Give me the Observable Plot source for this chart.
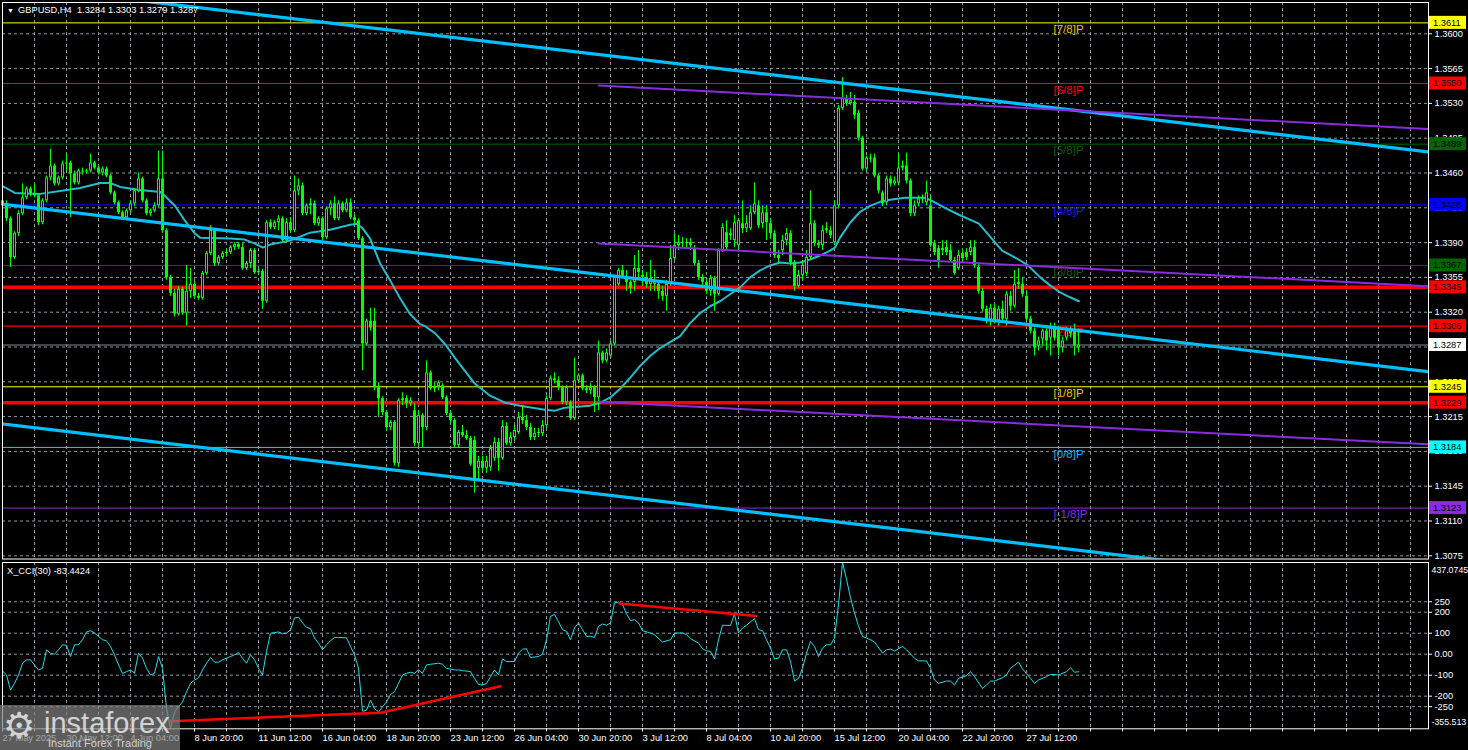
<!DOCTYPE html>
<html>
<head>
<meta charset="utf-8">
<script src="https://cdn.jsdelivr.net/npm/d3@7"></script>
<script src="https://cdn.jsdelivr.net/npm/@observablehq/plot@0.6"></script>
<style>
  html, body { margin:0; padding:0; background:#000; }
  body { width:1468px; height:750px; position:relative; overflow:hidden; font-family:'Liberation Sans', Arial, sans-serif; }
  #main { position:absolute; left:0; top:0; }
  #cci { position:absolute; left:0; top:560px; }
  .lbl { position:absolute; color:#fff; font-size:9.3px; white-space:pre; line-height:1; }
  #wm { position:absolute; left:0; top:705px; width:180px; height:45px; background:rgba(128,128,128,0.72); }
  #wm div { position:absolute; color:rgba(228,228,228,0.88); white-space:nowrap; line-height:1; }
</style>
</head>
<body>
<div id="main"></div>
<div id="cci"></div>
<div class="lbl" style="left:7px;top:7px;font-size:7px">▼</div>
<div class="lbl" style="left:18px;top:6px">GBPUSD,H4  1.3284 1.3303 1.3279 1.3287</div>
<div class="lbl" style="left:7px;top:567px">X_CCI(30) -83.4424</div>
<div id="wm">
  <div style="left:3px;top:3px;font-size:36px;font-family:'DejaVu Sans'">⚙</div>
  <div style="left:44px;top:4px;font-size:29px;">instaforex</div>
  <div style="left:48px;top:33px;font-size:11px;">Instant Forex Trading</div>
</div>
<script>
// ---------------- DATA ----------------
const priceTicks = [1.3600,1.3565,1.3530,1.3495,1.3460,1.3425,1.3390,1.3355,1.3320,1.3285,1.3250,1.3215,1.3180,1.3145,1.3110,1.3075];
const levelPrices = [1.3611,1.3550,1.3489,1.3428,1.3367,1.3345,1.3306,1.3287,1.3245,1.3229,1.3184,1.3123];
const murreyLabels = ["[7/8]P","[6/8]P","[5/8]P","[4/8]P","[3/8]P","[2/8]P","[1/8]P","[0/8]P","[-1/8]P"];
const murreyPrices = [1.3611,1.3550,1.3489,1.3428,1.3367,1.3306,1.3245,1.3184,1.3123];

const open = [
1.3432,1.3427,1.3414,1.3375,1.3399,1.3419,1.3435,1.3444,1.3439,1.3437,
1.3410,1.3432,1.3455,1.3467,1.3449,1.3455,1.3469,1.3470,1.3459,1.3450,
1.3462,1.3461,1.3462,1.3470,1.3465,1.3460,1.3464,1.3457,1.3440,1.3430,
1.3420,1.3415,1.3422,1.3429,1.3442,1.3454,1.3432,1.3419,1.3422,1.3427,
1.3454,1.3402,1.3355,1.3339,1.3318,1.3343,1.3319,1.3341,1.3348,1.3336,
1.3334,1.3359,1.3379,1.3402,1.3369,1.3375,1.3379,1.3380,1.3385,1.3388,
1.3385,1.3364,1.3369,1.3382,1.3360,1.3361,1.3331,1.3410,1.3405,1.3410,
1.3414,1.3392,1.3410,1.3402,1.3442,1.3447,1.3419,1.3427,1.3429,1.3409,
1.3414,1.3395,1.3424,1.3429,1.3414,1.3429,1.3422,1.3430,1.3415,1.3412,
1.3394,1.3288,1.3311,1.3311,1.3244,1.3233,1.3219,1.3204,1.3209,1.3168,
1.3231,1.3233,1.3228,1.3221,1.3188,1.3216,1.3204,1.3259,1.3243,1.3245,
1.3246,1.3234,1.3218,1.3211,1.3186,1.3199,1.3196,1.3193,1.3191,1.3163,
1.3170,1.3163,1.3164,1.3173,1.3189,1.3173,1.3205,1.3188,1.3194,1.3199,
1.3214,1.3211,1.3204,1.3194,1.3198,1.3198,1.3206,1.3233,1.3253,1.3251,
1.3244,1.3229,1.3229,1.3213,1.3251,1.3256,1.3243,1.3241,1.3244,1.3234,
1.3279,1.3271,1.3276,1.3288,1.3348,1.3362,1.3355,1.3350,1.3350,1.3364,
1.3357,1.3355,1.3348,1.3348,1.3348,1.3341,1.3336,1.3348,1.3374,1.3387,
1.3390,1.3389,1.3390,1.3384,1.3369,1.3355,1.3350,1.3341,1.3354,1.3338,
1.3382,1.3400,1.3397,1.3392,1.3387,1.3409,1.3404,1.3404,1.3420,1.3427,
1.3409,1.3420,1.3409,1.3399,1.3377,1.3382,1.3392,1.3399,1.3370,1.3346,
1.3357,1.3359,1.3375,1.3409,1.3389,1.3387,1.3402,1.3402,1.3390,1.3427,
1.3525,1.3535,1.3530,1.3531,1.3520,1.3495,1.3464,1.3475,1.3475,1.3457,
1.3440,1.3430,1.3454,1.3449,1.3450,1.3465,1.3467,1.3452,1.3419,1.3429,
1.3434,1.3430,1.3427,1.3389,1.3384,1.3382,1.3385,1.3382,1.3372,1.3364,
1.3379,1.3380,1.3380,1.3385,1.3365,1.3341,1.3323,1.3311,1.3324,1.3311,
1.3323,1.3313,1.3336,1.3326,1.3348,1.3348,1.3336,1.3313,1.3301,1.3286,
1.3293,1.3301,1.3294,1.3304,1.3303,1.3284,1.3294,1.3301,1.3301,1.3284];

const high = [
1.3434,1.3432,1.3416,1.3401,1.3422,1.3449,1.3446,1.3446,1.3449,1.3439,
1.3434,1.3457,1.3484,1.3469,1.3457,1.3472,1.3479,1.3472,1.3462,1.3464,
1.3465,1.3464,1.3479,1.3472,1.3467,1.3466,1.3466,1.3459,1.3442,1.3432,
1.3422,1.3424,1.3432,1.3444,1.3460,1.3456,1.3434,1.3424,1.3430,1.3482,
1.3482,1.3404,1.3357,1.3343,1.3346,1.3345,1.3367,1.3364,1.3351,1.3339,
1.3361,1.3381,1.3407,1.3404,1.3377,1.3381,1.3383,1.3387,1.3390,1.3390,
1.3389,1.3371,1.3384,1.3384,1.3364,1.3363,1.3412,1.3413,1.3412,1.3417,
1.3416,1.3414,1.3415,1.3457,1.3454,1.3450,1.3429,1.3434,1.3432,1.3416,
1.3416,1.3426,1.3432,1.3436,1.3432,1.3431,1.3434,1.3434,1.3418,1.3414,
1.3396,1.3313,1.3324,1.3324,1.3249,1.3235,1.3221,1.3211,1.3211,1.3233,
1.3239,1.3236,1.3234,1.3228,1.3221,1.3218,1.3271,1.3261,1.3249,1.3251,
1.3248,1.3236,1.3221,1.3213,1.3201,1.3206,1.3201,1.3195,1.3195,1.3175,
1.3175,1.3175,1.3186,1.3194,1.3193,1.3211,1.3209,1.3199,1.3206,1.3219,
1.3226,1.3216,1.3208,1.3203,1.3203,1.3211,1.3236,1.3256,1.3259,1.3255,
1.3246,1.3246,1.3231,1.3274,1.3258,1.3258,1.3246,1.3248,1.3246,1.3291,
1.3281,1.3283,1.3291,1.3357,1.3364,1.3367,1.3362,1.3352,1.3377,1.3382,
1.3362,1.3360,1.3372,1.3362,1.3352,1.3346,1.3352,1.3387,1.3399,1.3397,
1.3395,1.3394,1.3394,1.3387,1.3372,1.3358,1.3354,1.3357,1.3356,1.3384,
1.3409,1.3412,1.3404,1.3417,1.3414,1.3432,1.3417,1.3427,1.3450,1.3432,
1.3427,1.3427,1.3414,1.3402,1.3382,1.3397,1.3404,1.3402,1.3372,1.3362,
1.3372,1.3382,1.3442,1.3412,1.3392,1.3407,1.3410,1.3406,1.3432,1.3528,
1.3556,1.3538,1.3541,1.3538,1.3523,1.3497,1.3477,1.3479,1.3479,1.3459,
1.3442,1.3457,1.3457,1.3456,1.3479,1.3472,1.3480,1.3454,1.3432,1.3437,
1.3438,1.3452,1.3437,1.3392,1.3387,1.3392,1.3392,1.3388,1.3375,1.3382,
1.3382,1.3384,1.3392,1.3392,1.3368,1.3344,1.3326,1.3328,1.3328,1.3326,
1.3331,1.3341,1.3341,1.3362,1.3364,1.3354,1.3341,1.3316,1.3304,1.3295,
1.3303,1.3306,1.3309,1.3309,1.3306,1.3295,1.3305,1.3305,1.3308,1.3303];

const low = [
1.3422,1.3411,1.3365,1.3373,1.3396,1.3417,1.3433,1.3436,1.3435,1.3407,
1.3408,1.3430,1.3452,1.3447,1.3447,1.3453,1.3462,1.3415,1.3448,1.3448,
1.3458,1.3459,1.3460,1.3463,1.3458,1.3457,1.3455,1.3438,1.3428,1.3418,
1.3413,1.3412,1.3420,1.3426,1.3440,1.3430,1.3417,1.3416,1.3420,1.3425,
1.3400,1.3352,1.3336,1.3315,1.3316,1.3317,1.3306,1.3334,1.3334,1.3332,
1.3332,1.3357,1.3377,1.3366,1.3367,1.3373,1.3376,1.3378,1.3382,1.3383,
1.3362,1.3362,1.3364,1.3358,1.3358,1.3323,1.3329,1.3403,1.3403,1.3402,
1.3390,1.3390,1.3400,1.3400,1.3437,1.3417,1.3417,1.3418,1.3407,1.3406,
1.3392,1.3393,1.3417,1.3412,1.3412,1.3420,1.3420,1.3413,1.3409,1.3392,
1.3261,1.3286,1.3301,1.3241,1.3214,1.3216,1.3201,1.3201,1.3165,1.3164,
1.3226,1.3223,1.3225,1.3185,1.3185,1.3184,1.3201,1.3241,1.3239,1.3241,
1.3232,1.3216,1.3208,1.3184,1.3183,1.3194,1.3191,1.3165,1.3138,1.3150,
1.3160,1.3158,1.3160,1.3170,1.3160,1.3171,1.3186,1.3185,1.3191,1.3197,
1.3207,1.3201,1.3191,1.3191,1.3194,1.3195,1.3203,1.3231,1.3248,1.3241,
1.3227,1.3226,1.3211,1.3211,1.3249,1.3241,1.3238,1.3237,1.3219,1.3221,
1.3268,1.3269,1.3274,1.3286,1.3346,1.3354,1.3341,1.3338,1.3341,1.3354,
1.3346,1.3344,1.3341,1.3341,1.3333,1.3331,1.3321,1.3346,1.3372,1.3382,
1.3384,1.3385,1.3382,1.3367,1.3352,1.3346,1.3338,1.3336,1.3321,1.3336,
1.3380,1.3382,1.3392,1.3385,1.3382,1.3399,1.3400,1.3402,1.3418,1.3404,
1.3404,1.3392,1.3394,1.3374,1.3370,1.3377,1.3387,1.3367,1.3341,1.3344,
1.3352,1.3356,1.3372,1.3386,1.3384,1.3382,1.3399,1.3394,1.3387,1.3424,
1.3523,1.3527,1.3528,1.3514,1.3492,1.3462,1.3462,1.3470,1.3455,1.3439,
1.3426,1.3427,1.3446,1.3447,1.3447,1.3462,1.3449,1.3416,1.3416,1.3426,
1.3429,1.3427,1.3385,1.3377,1.3364,1.3377,1.3377,1.3370,1.3357,1.3362,
1.3370,1.3372,1.3377,1.3364,1.3338,1.3320,1.3308,1.3306,1.3308,1.3306,
1.3309,1.3306,1.3321,1.3324,1.3343,1.3335,1.3311,1.3298,1.3276,1.3281,
1.3286,1.3281,1.3276,1.3291,1.3276,1.3279,1.3291,1.3294,1.3276,1.3279];

const close = [
1.3427,1.3414,1.3375,1.3399,1.3419,1.3435,1.3444,1.3439,1.3437,1.3410,
1.3432,1.3455,1.3467,1.3449,1.3455,1.3469,1.3470,1.3459,1.3450,1.3462,
1.3461,1.3462,1.3470,1.3465,1.3460,1.3464,1.3457,1.3440,1.3430,1.3420,
1.3415,1.3422,1.3429,1.3442,1.3454,1.3432,1.3419,1.3422,1.3427,1.3454,
1.3402,1.3355,1.3339,1.3318,1.3343,1.3319,1.3341,1.3348,1.3336,1.3334,
1.3359,1.3379,1.3402,1.3369,1.3375,1.3379,1.3380,1.3385,1.3388,1.3385,
1.3364,1.3369,1.3382,1.3360,1.3361,1.3331,1.3410,1.3405,1.3410,1.3414,
1.3392,1.3410,1.3402,1.3442,1.3447,1.3419,1.3427,1.3429,1.3409,1.3414,
1.3395,1.3424,1.3429,1.3414,1.3429,1.3422,1.3430,1.3415,1.3412,1.3394,
1.3288,1.3311,1.3304,1.3244,1.3233,1.3219,1.3204,1.3209,1.3168,1.3231,
1.3233,1.3228,1.3231,1.3188,1.3216,1.3204,1.3259,1.3243,1.3245,1.3249,
1.3234,1.3218,1.3211,1.3186,1.3199,1.3196,1.3193,1.3167,1.3152,1.3170,
1.3163,1.3170,1.3183,1.3189,1.3173,1.3205,1.3188,1.3194,1.3201,1.3214,
1.3211,1.3204,1.3194,1.3198,1.3199,1.3206,1.3233,1.3253,1.3251,1.3244,
1.3229,1.3244,1.3213,1.3251,1.3256,1.3243,1.3241,1.3244,1.3234,1.3279,
1.3271,1.3279,1.3288,1.3355,1.3362,1.3356,1.3350,1.3344,1.3364,1.3360,
1.3355,1.3348,1.3354,1.3352,1.3341,1.3336,1.3348,1.3374,1.3387,1.3390,
1.3389,1.3390,1.3387,1.3369,1.3355,1.3350,1.3341,1.3354,1.3338,1.3382,
1.3405,1.3385,1.3399,1.3410,1.3412,1.3404,1.3409,1.3420,1.3429,1.3407,
1.3420,1.3410,1.3399,1.3377,1.3374,1.3392,1.3399,1.3370,1.3346,1.3357,
1.3367,1.3375,1.3409,1.3389,1.3387,1.3402,1.3404,1.3397,1.3427,1.3525,
1.3535,1.3530,1.3533,1.3518,1.3495,1.3464,1.3475,1.3474,1.3457,1.3442,
1.3429,1.3454,1.3449,1.3452,1.3465,1.3467,1.3452,1.3419,1.3427,1.3434,
1.3435,1.3440,1.3387,1.3380,1.3372,1.3384,1.3380,1.3372,1.3359,1.3377,
1.3374,1.3375,1.3385,1.3367,1.3341,1.3323,1.3311,1.3324,1.3311,1.3323,
1.3313,1.3338,1.3326,1.3348,1.3350,1.3338,1.3313,1.3301,1.3284,1.3291,
1.3301,1.3291,1.3304,1.3294,1.3284,1.3291,1.3301,1.3298,1.3286,1.3287];

// moving average vertices [bar, price]
const maPoints = [[-0.6,1.3448],[3.1,1.3440],[9.4,1.3439],[14.4,1.3442],[19.4,1.3445],[24.4,1.3450],[26.9,1.3450],[29.4,1.3446],[34.4,1.3443],[39.4,1.3441],[40.6,1.3437],[43.1,1.3427],[45.6,1.3412],[48.1,1.3399],[49.4,1.3395],[56.9,1.3394],[60.6,1.3393],[63.1,1.3389],[65.1,1.3385],[66.9,1.3388],[71.9,1.3392],[74.4,1.3396],[76.9,1.3400],[81.9,1.3403],[86.9,1.3408],[88.6,1.3409],[89.9,1.3405],[91.9,1.3394],[94.4,1.3369],[96.9,1.3352],[99.4,1.3334],[101.9,1.3318],[104.4,1.3308],[105.6,1.3306],[108.1,1.3299],[110.6,1.3288],[113.1,1.3274],[115.6,1.3261],[118.1,1.3248],[121.9,1.3236],[125.6,1.3229],[129.4,1.3226],[135.6,1.3222],[138.1,1.3221],[140.6,1.3224],[146.9,1.3226],[149.4,1.3229],[151.9,1.3234],[154.4,1.3243],[156.9,1.3254],[159.4,1.3266],[161.9,1.3276],[164.4,1.3284],[166.9,1.3290],[169.4,1.3296],[171.9,1.3309],[174.4,1.3319],[176.9,1.3326],[179.4,1.3331],[181.9,1.3338],[184.4,1.3345],[186.9,1.3355],[189.4,1.3362],[191.9,1.3367],[194.4,1.3370],[196.9,1.3369],[199.4,1.3370],[201.9,1.3373],[204.4,1.3377],[206.9,1.3382],[208.1,1.3385],[209.4,1.3395],[211.9,1.3410],[214.4,1.3421],[216.9,1.3427],[219.4,1.3431],[221.9,1.3433],[225.6,1.3435],[230.6,1.3435],[232.4,1.3432],[235.6,1.3425],[239.1,1.3418],[244.1,1.3409],[246.9,1.3396],[249.9,1.3382],[253.6,1.3374],[256.4,1.3367],[259.4,1.3355],[261.9,1.3347],[264.4,1.3340],[266.9,1.3335],[269.1,1.3331]];

// regression channel [bar] and prices
const regBars = [-1, 357];
const regUpper = [1.3650, 1.3481];
const regMid = [1.3429, 1.3260];
const regLower = [1.3208, 1.3039];
// second (purple) channel
const pfBars = [149.1, 357];
const pfTop = [1.3548, 1.3504];
const pfMid = [1.3389, 1.3346];
const pfBot = [1.3230, 1.3187];

// CCI(30) [bar, value]
const cciPoints = [[0,-80],[1,-99],[2,-171],[3,-139],[4,-99],[5,-43],[6,-27],[7,-27],[8,-51],[9,-75],[10,-67],[11,21],[12,5],[13,0],[14,21],[15,45],[16,42],[17,-11],[18,45],[19,45],[20,69],[21,106],[22,112],[23,101],[25,69],[26,64],[27,37],[28,-3],[29,-51],[30,-91],[31,-83],[32,-75],[33,-91],[34,5],[35,-19],[36,-67],[37,-99],[38,-91],[39,-11],[40,-67],[41,-259],[42,-355.5],[43,-275],[44,-251],[45,-227],[46,-179],[47,-139],[48,-123],[49,-112],[50,-75],[51,-43],[52,-16],[53,-38],[54,-38],[55,-27],[57,-11],[58,-3],[59,8],[60,-19],[61,-43],[62,-3],[63,-27],[64,-67],[65,-99],[66,13],[67,100],[69,106],[70,98],[71,101],[72,115],[73,173],[74,176],[75,149],[76,128],[77,122],[78,77],[79,53],[80,21],[81,45],[82,64],[83,80],[84,80],[86,78],[87,37],[88,-3],[89,-67],[90,-272],[91,-267],[92,-219],[93,-259],[94,-275],[95,-251],[96,-227],[97,-192],[98,-179],[99,-139],[100,-99],[101,-91],[102,-86],[103,-91],[104,-75],[105,-91],[106,-51],[107,-48],[109,-43],[110,-48],[111,-67],[113,-75],[114,-75],[115,-78],[117,-83],[118,-115],[119,-144],[120,-147],[121,-139],[122,-107],[123,-75],[124,-99],[125,-22],[126,-35],[128,-35],[129,5],[130,24],[131,26],[132,-16],[134,-11],[135,0],[136,69],[137,181],[138,189],[139,155],[140,117],[141,109],[142,69],[143,125],[144,149],[145,117],[146,85],[147,85],[148,80],[149,133],[150,144],[151,138],[152,149],[153,245],[154,248],[155,237],[156,192],[157,160],[158,165],[159,149],[160,112],[162,101],[163,93],[165,58],[167,69],[168,101],[170,101],[171,93],[172,74],[174,53],[175,26],[176,16],[177,13],[178,-22],[179,69],[180,138],[182,137],[183,192],[184,101],[185,125],[186,138],[188,170],[189,117],[190,112],[191,69],[192,29],[193,-22],[194,-19],[195,21],[196,21],[197,-35],[198,-128],[199,-115],[200,-67],[201,5],[202,61],[203,37],[204,-11],[205,29],[206,45],[207,45],[208,77],[209,237],[210,437],[211,357],[212,269],[213,197],[214,133],[215,85],[217,69],[218,58],[220,5],[221,21],[222,24],[223,16],[224,26],[225,37],[226,21],[228,-19],[229,-32],[231,-32],[232,-67],[233,-123],[234,-139],[236,-128],[237,-128],[238,-147],[239,-115],[241,-102],[242,-83],[243,-107],[245,-163],[246,-147],[247,-128],[248,-128],[250,-112],[251,-99],[252,-67],[254,-38],[255,-70],[257,-115],[258,-139],[259,-123],[261,-107],[262,-96],[264,-99],[266,-83],[267,-64],[268,-86],[269,-83.4424]];
const cciTrendA = [[42,-319],[94.5,-279],[124.5,-153]];
const cciTrendB = [[154.2,242],[188.4,182]];
const cciTicks = [250, 200, 100, 0, -100, -200, -250];
const cciMax = 437.0745, cciMin = -355.513;

const timeBars = [0,16,32,48,64,80,96,112,128,144,160,176,192,208,224,240,256];
const timeLabels = ["27 May 2025","30 May 12:00","4 Jun 04:00","8 Jun 20:00","11 Jun 12:00","16 Jun 04:00","18 Jun 20:00","23 Jun 12:00","26 Jun 04:00","30 Jun 20:00","3 Jul 12:00","8 Jul 04:00","10 Jul 20:00","15 Jul 12:00","20 Jul 04:00","22 Jul 20:00","27 Jul 12:00"];

// ---------------- STYLES ----------------
const GRID = "#8f969d";
const LIME = "#00ff00";
const FONT = "'Liberation Sans', Arial, sans-serif";
const levelStroke = ["#ffff00","#ff0000","#006400","#0000ff","#006400","#ff0000","#ff0000","#7f8a94","#ffff00","#ff0000","#00e0e8","#8a2be2"];
const levelWidth = [1,1,1,1,1,3.5,1.3,1,1,3.5,1,1];
const boxFill = ["#ffff00","#ff0000","#006400","#0000ff","#006400","#ff0000","#ff0000","#ffffff","#ffff00","#ff0000","#00ffff","#8a2be2"];
const murreyColor = ["#e8c800","#ff0000","#0b5e0b","#1a1aff","#0b5e0b","#ff0000","#e8c800","#1ab0e8","#8a2be2"];

const n = Math.min(open.length, high.length, low.length, close.length);
const bars = d3.range(n).map(i => ({i, o: open[i], h: high[i], l: low[i], c: close[i]}));
const gridBars = d3.range(8, 357, 8);
const style = {background: "#000", color: "#fff", fontFamily: FONT, fontSize: "9.3px"};

const main = Plot.plot({
  width: 1468, height: 560,
  marginLeft: 2, marginRight: 40, marginTop: 2, marginBottom: 1.5,
  x: {domain: [0, 356.5], axis: null},
  y: {domain: [1.307178, 1.363148], axis: null},
  style,
  marks: [
    Plot.gridY(priceTicks, {stroke: GRID, strokeOpacity: 1, strokeDasharray: "3,3"}),
    Plot.gridX(gridBars, {stroke: GRID, strokeOpacity: 1, strokeDasharray: "3,3"}),
    ...levelPrices.map((p, k) => Plot.ruleY([p], {stroke: levelStroke[k], strokeWidth: levelWidth[k]})),
    ...murreyPrices.map((p, k) => Plot.text([p], {y: d => d, text: () => murreyLabels[k], frameAnchor: "left", dx: 1051, lineAnchor: "top", dy: 2, textAnchor: "start", fill: murreyColor[k], fontSize: 11.5, fontFamily: "'Liberation Sans Narrow', 'Liberation Sans', sans-serif"})),
    Plot.line(maPoints, {stroke: "#25bccb", strokeWidth: 2, clip: true}),
    Plot.ruleX(bars, {x: "i", y1: "l", y2: "h", stroke: LIME, strokeWidth: 1}),
    Plot.ruleX(bars, {x: "i", y1: "o", y2: "c", stroke: LIME, strokeWidth: 3}),
    Plot.ruleX(bars.filter(d => d.c - d.o >= 0.00025), {x: "i", y1: "c", y2: "o", stroke: "#000", strokeWidth: 1, insetTop: 1, insetBottom: 1}),
    Plot.line(regBars.map((b, j) => [b, regUpper[j]]), {stroke: "#00bfff", strokeWidth: 3.2, clip: true}),
    Plot.line(regBars.map((b, j) => [b, regMid[j]]), {stroke: "#00bfff", strokeWidth: 3.2, clip: true}),
    Plot.line(regBars.map((b, j) => [b, regLower[j]]), {stroke: "#00bfff", strokeWidth: 3.2, clip: true}),
    Plot.line(pfBars.map((b, j) => [b, pfTop[j]]), {stroke: "#8a2be2", strokeWidth: 2, clip: true}),
    Plot.line(pfBars.map((b, j) => [b, pfMid[j]]), {stroke: "#8a2be2", strokeWidth: 2, clip: true}),
    Plot.line(pfBars.map((b, j) => [b, pfBot[j]]), {stroke: "#8a2be2", strokeWidth: 2, clip: true}),
    Plot.frame({stroke: "#fff"}),
    Plot.axisY(priceTicks, {anchor: "right", tickSize: 3, tickPadding: 3, tickFormat: d => d.toFixed(4)}),
    (index, scales, values, dims) => {
      const g = d3.create("svg:g").attr("font-family", FONT).attr("font-size", "9.3px").attr("text-anchor", "start");
      const x0 = dims.width - dims.marginRight;
      levelPrices.forEach((p, k) => {
        const y = scales.y(p);
        g.append("rect").attr("x", x0 + 1).attr("y", y - 6.5).attr("width", 37).attr("height", 13).attr("fill", boxFill[k]);
        g.append("text").attr("x", x0 + 5).attr("y", y).attr("dy", "0.36em").attr("text-anchor", "start").attr("fill", "#000").text(p.toFixed(4));
      });
      return g.node();
    }
  ]
});
document.getElementById("main").append(main);

const cci = Plot.plot({
  width: 1468, height: 190,
  marginLeft: 2, marginRight: 40, marginTop: 2, marginBottom: 21.7,
  x: {domain: [0, 356.5], axis: null},
  y: {domain: [cciMin, cciMax], axis: null},
  style,
  marks: [
    Plot.gridY(cciTicks, {stroke: GRID, strokeOpacity: 1, strokeDasharray: "3,3"}),
    Plot.gridX(gridBars, {stroke: GRID, strokeOpacity: 1, strokeDasharray: "3,3"}),
    Plot.line(cciPoints, {stroke: "#19e0ec", strokeWidth: 1, clip: true}),
    Plot.line(cciTrendA, {stroke: "#ff0000", strokeWidth: 2.5}),
    Plot.line(cciTrendB, {stroke: "#ff0000", strokeWidth: 2.5}),
    Plot.frame({stroke: "#fff"}),
    Plot.axisY(cciTicks, {anchor: "right", tickSize: 3, tickPadding: 3, tickFormat: d => d === 0 ? "0.00" : String(d)}),
    Plot.text([cciMax], {y: d => d, text: d => String(d), frameAnchor: "right", dx: 3, dy: 8, textAnchor: "start", fill: "#fff", fontSize: 8.8}),
    Plot.text([cciMin], {y: d => d, text: d => String(d), frameAnchor: "right", dx: 3, dy: -6.5, textAnchor: "start", fill: "#fff", fontSize: 8.8}),
    Plot.axisX(d3.range(0, 357, 8), {anchor: "bottom", tickSize: 3, tickFormat: () => ""}),
    Plot.axisX(timeBars, {anchor: "bottom", tickSize: 3, tickPadding: 3, textAnchor: "start", tickFormat: d => timeLabels[timeBars.indexOf(d)]})
  ]
});
document.getElementById("cci").append(cci);
</script>
</body>
</html>
